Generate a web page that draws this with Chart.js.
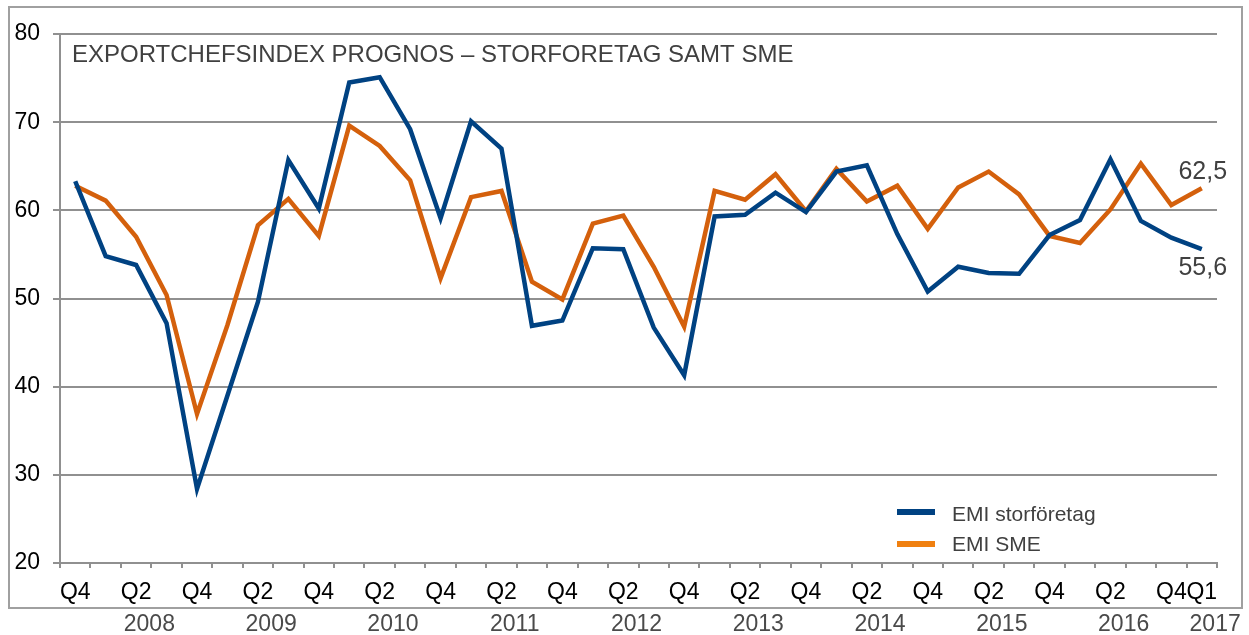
<!DOCTYPE html>
<html>
<head>
<meta charset="utf-8">
<script src="https://cdn.jsdelivr.net/npm/chart.js@4/dist/chart.umd.min.js"></script>
<style>
html,body{margin:0;padding:0;background:#fff;}
#wrap{width:1249px;height:635px;}
</style>
</head>
<body>
<div id="wrap"><canvas id="c" width="1249" height="635"></canvas></div>
<script>
// ---- data ----
const quarters = ['Q4','Q1','Q2','Q3','Q4','Q1','Q2','Q3','Q4','Q1','Q2','Q3','Q4','Q1','Q2','Q3','Q4','Q1','Q2','Q3','Q4','Q1','Q2','Q3','Q4','Q1','Q2','Q3','Q4','Q1','Q2','Q3','Q4','Q1','Q2','Q3','Q4','Q1'];
const categoryYears = ['2007','2008','2008','2008','2008','2009','2009','2009','2009','2010','2010','2010','2010','2011','2011','2011','2011','2012','2012','2012','2012','2013','2013','2013','2013','2014','2014','2014','2014','2015','2015','2015','2015','2016','2016','2016','2016','2017'];
const tickLabels = ['Q4','','Q2','','Q4','','Q2','','Q4','','Q2','','Q4','','Q2','','Q4','','Q2','','Q4','','Q2','','Q4','','Q2','','Q4','','Q2','','Q4','','Q2','','Q4','Q1'];
const yearLabels = ['2008','2009','2010','2011','2012','2013','2014','2015','2016','2017'];
const emiStor = [63.3,54.8,53.8,47.2,28.4,39.0,49.6,65.7,60.2,74.5,75.1,69.2,59.1,70.1,67.0,46.9,47.5,55.7,55.6,46.7,41.3,59.3,59.5,62.0,59.8,64.4,65.1,57.3,50.8,53.6,52.9,52.8,57.2,58.9,65.8,58.8,56.9,55.6];
const emiSME  = [62.8,61.1,57.0,50.4,36.9,47.0,58.3,61.3,57.1,69.6,67.3,63.4,52.3,61.5,62.2,51.9,49.9,58.5,59.4,53.6,46.8,62.2,61.2,64.1,59.9,64.7,61.0,62.8,57.9,62.6,64.4,61.8,57.1,56.3,60.1,65.3,60.6,62.5];
const seriesNames = ['EMI storföretag','EMI SME'];
const titleText = 'EXPORTCHEFSINDEX PROGNOS \u2013 STORFORETAG SAMT SME';

const FONT = '"Liberation Sans", Arial, sans-serif';
const BLUE = '#004282';
const ORANGE = '#D4600C';
const LEGEND_ORANGE = '#F08010';

const decorPlugin = {
  id: 'decor',
  beforeDraw(chart) {
    const ctx = chart.ctx;
    ctx.save();
    ctx.fillStyle = '#fff';
    ctx.fillRect(0, 0, chart.width, chart.height);
    ctx.strokeStyle = '#a0a0a0';
    ctx.lineWidth = 2;
    ctx.strokeRect(9, 7, 1233, 601);
    ctx.restore();
  },
  afterDraw(chart) {
    const ctx = chart.ctx;
    const xs = chart.scales.x;
    ctx.save();
    // title
    ctx.font = '24px ' + FONT;
    ctx.fillStyle = '#404040';
    ctx.textBaseline = 'alphabetic';
    ctx.textAlign = 'left';
    ctx.fillText(titleText, chart.chartArea.left + 12, 62);
    // year labels
    ctx.font = '23px ' + FONT;
    ctx.fillStyle = '#4a4a4a';
    const step = xs.width / quarters.length;
    yearLabels.forEach(y => {
      const idx = [];
      categoryYears.forEach((cy, i) => { if (cy === y) idx.push(i); });
      if (!idx.length) return;
      const x0 = xs.getPixelForValue(idx[0]) - step / 2;
      const x1 = xs.getPixelForValue(idx[idx.length - 1]) + step / 2;
      if (idx.length === 1) {
        ctx.textAlign = 'left';
        ctx.fillText(y, x0 + 3, 631);
      } else {
        ctx.textAlign = 'center';
        ctx.fillText(y, (x0 + x1) / 2 - 2, 631);
      }
    });
    // last-value labels
    ctx.font = '25px ' + FONT;
    ctx.fillStyle = '#404040';
    ctx.textAlign = 'center';
    const m0 = chart.getDatasetMeta(0).data;
    const m1 = chart.getDatasetMeta(1).data;
    const p0 = m0[m0.length - 1], p1 = m1[m1.length - 1];
    const fmt = v => v.toFixed(1).replace('.', ',');
    ctx.fillText(fmt(emiSME[emiSME.length - 1]), p1.x + 1, p1.y - 9);
    ctx.fillText(fmt(emiStor[emiStor.length - 1]), p0.x + 1, p0.y + 26);
    // legend
    const items = [[seriesNames[0], BLUE, 512, 521], [seriesNames[1], LEGEND_ORANGE, 544, 551]];
    ctx.font = '21px ' + FONT;
    ctx.textAlign = 'left';
    items.forEach(([name, col, ly, ty]) => {
      ctx.fillStyle = col;
      ctx.fillRect(897, ly - 3, 38, 6);
      ctx.fillStyle = '#404040';
      ctx.fillText(name, 952, ty);
    });
    ctx.restore();
  }
};

new Chart(document.getElementById('c'), {
  type: 'line',
  data: {
    labels: quarters,
    datasets: [
      { label: seriesNames[0], data: emiStor, borderColor: BLUE, backgroundColor: BLUE, borderWidth: 4.5, pointRadius: 0, tension: 0 },
      { label: seriesNames[1], data: emiSME, borderColor: ORANGE, backgroundColor: ORANGE, borderWidth: 4.5, pointRadius: 0, tension: 0 }
    ]
  },
  options: {
    responsive: false,
    animation: false,
    layout: { padding: { top: 34, right: 32, left: 0, bottom: 0 } },
    plugins: { legend: { display: false }, tooltip: { enabled: false }, title: { display: false } },
    scales: {
      x: {
        offset: true,
        afterFit(s) { s.height = 72; },
        grid: { offset: true, drawOnChartArea: false, drawTicks: true, tickLength: 5, color: '#909090', lineWidth: 2 },
        border: { display: true, color: '#909090', width: 2 },
        ticks: {
          autoSkip: false, maxRotation: 0, padding: 11,
          color: '#000', font: { family: FONT, size: 23 },
          callback: (v, i) => tickLabels[i]
        }
      },
      y: {
        min: 20, max: 80,
        afterFit(s) { s.width = 60; },
        grid: { color: '#909090', lineWidth: 2, tickLength: 7 },
        border: { display: true, color: '#909090', width: 2 },
        ticks: { stepSize: 10, padding: 13, color: '#000', font: { family: FONT, size: 23 } }
      }
    }
  },
  plugins: [decorPlugin]
});
</script>
</body>
</html>
